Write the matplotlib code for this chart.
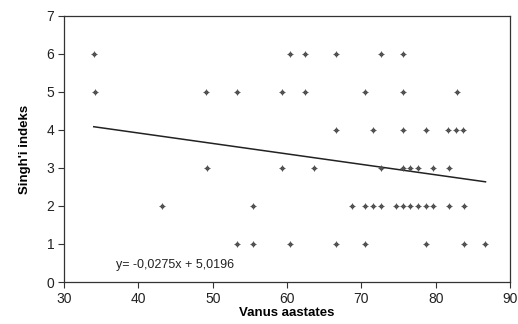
import numpy as np
import matplotlib.pyplot as plt

plt.rcParams["font.family"] = ["Liberation Sans", "DejaVu Sans"]

# age (x) per Singh index level (y)
ages_6 = [34.0, 60.4, 62.4, 66.6, 72.6, 75.6]
ages_5 = [34.1, 49.1, 53.3, 59.3, 62.4, 70.5, 75.6, 82.8]
ages_4 = [66.6, 71.6, 75.6, 78.7, 81.7, 82.7, 83.7]
ages_3 = [49.2, 59.3, 63.6, 72.6, 75.6, 76.6, 77.6, 79.6, 81.8]
ages_2 = [43.2, 55.4, 68.7, 70.5, 71.6, 72.6, 74.6, 75.6, 76.6, 77.6, 78.7, 79.7, 81.8, 83.8]
ages_1 = [53.3, 55.4, 60.4, 66.6, 70.5, 78.7, 83.8, 86.7]

slope = -0.0275
intercept = 5.0196

groups = {6: ages_6, 5: ages_5, 4: ages_4, 3: ages_3, 2: ages_2, 1: ages_1}
x = np.concatenate([np.array(v) for v in groups.values()])
y = np.concatenate([np.full(len(v), k) for k, v in groups.items()])

fig = plt.figure(figsize=(5.18, 3.24), dpi=100)
ax = fig.add_axes([0.1236, 0.1296, 0.861, 0.8214])

ax.scatter(x, y, marker="o", s=9, color="#4a4a4a", linewidths=0, zorder=3)
ax.scatter(x, y, marker="+", s=22, color="#555555", linewidths=0.7, zorder=3)

xl = np.array([x.min(), x.max()])
ax.plot(xl, slope * xl + intercept, color="#222222", lw=1.1, zorder=2)

ax.text(37, 0.45, "y= -0,0275x + 5,0196", fontsize=9, color="#222222", va="center")

ax.set_xlim(30, 90)
ax.set_ylim(0, 7)
ax.set_xticks(range(30, 91, 10))
ax.set_yticks(range(0, 8))
ax.tick_params(labelsize=10, length=4, width=0.8, color="#333333", labelcolor="#222222", pad=3)
for s in ax.spines.values():
    s.set_color("#333333")
    s.set_linewidth(0.9)

ax.set_xlabel("Vanus aastates", fontsize=9.5, fontweight="bold", labelpad=1)
ax.set_ylabel("Singh'i indeks", fontsize=9.5, fontweight="bold", labelpad=11)

fig.savefig("out.png", dpi=100)
